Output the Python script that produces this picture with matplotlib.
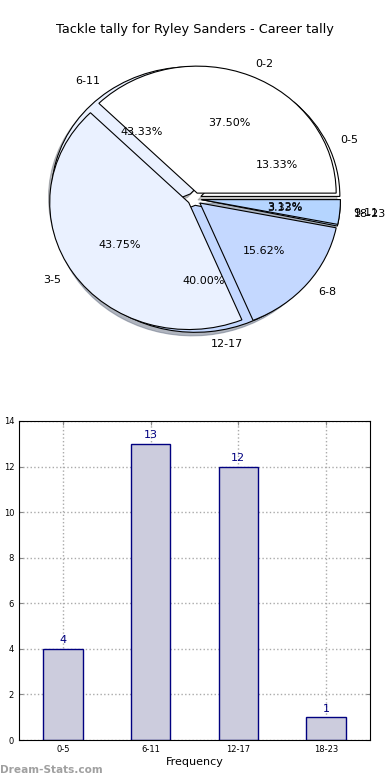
import matplotlib
matplotlib.use('Agg')
import matplotlib.pyplot as plt

# Datos
cats_a = ['0-2', '3-5', '6-8', '9-11']
vals_a = [12, 14, 5, 1]
cats_b = ['0-5', '6-11', '12-17', '18-23']
vals_b = [4, 13, 12, 1]
pie_colors = ['#ffffff', '#eaf1ff', '#c4d8ff', '#b5d5ff']

W, H = 390, 780
fig = plt.figure(figsize=(W / 100, H / 100), dpi=100)

fig.text(0.5, 1 - 30 / H, 'Tackle tally for Ryley Sanders - Career tally',
         ha='center', va='center', fontsize=9.3)

# --- Pie (two overlaid pies) ---
ax1 = fig.add_axes([0, 1 - 360 / H, 1, 320 / H])
explode = [0.05] * 4
ax1.pie(vals_b, labels=cats_b, colors=pie_colors, explode=explode,
        autopct='%1.2f%%', startangle=0,
        shadow={'ox': -0.015, 'oy': -0.02, 'shade': 0.5},
        wedgeprops=dict(edgecolor='black', linewidth=0.8),
        textprops=dict(fontsize=8))
ax1.pie(vals_a, labels=cats_a, colors=pie_colors, explode=explode,
        autopct='%1.2f%%', shadow=False, startangle=0,
        wedgeprops=dict(edgecolor='black', linewidth=0.8),
        textprops=dict(fontsize=8))
ax1.set_aspect('auto')
rx, ry = 139.0, 127.0
cx, cy = 194.5, 199.0
ax1.set_xlim(-cx / rx, (W - cx) / rx)
ax1.set_ylim(-(360 - cy) / ry, (cy - 40) / ry)

# --- Bar chart ---
ax2 = fig.add_axes([19 / W, 1 - 740 / H, 351 / W, 319 / H])
x = range(len(cats_b))
ax2.bar(x, vals_b, width=0.45, color='#ccccdd', edgecolor='#000080',
        linewidth=1, zorder=2)
for i, v in zip(x, vals_b):
    ax2.text(i, v + 0.15, str(v), ha='center', va='bottom',
             color='#000080', fontsize=8)
ax2.set_xlim(-0.5, 3.5)
ax2.set_ylim(0, 14)
ax2.set_yticks(range(0, 15, 2))
ax2.set_xticks(list(x))
ax2.set_xticklabels(cats_b)
ax2.tick_params(labelsize=6, direction='in', top=True, right=True,
                length=3, color='#888888')
ax2.grid(True, linestyle=':', color='#aaaaaa', linewidth=1)
ax2.set_xlabel('Frequency', fontsize=8, labelpad=2)
ax2.set_ylabel('Date Intervals', fontsize=8, labelpad=6)

fig.text(0, 1 - 770 / H, 'Dream-Stats.com', ha='left', va='center',
         fontsize=7.6, color='#a0a0a0', fontweight='bold')

fig.savefig('out.png', dpi=100)
